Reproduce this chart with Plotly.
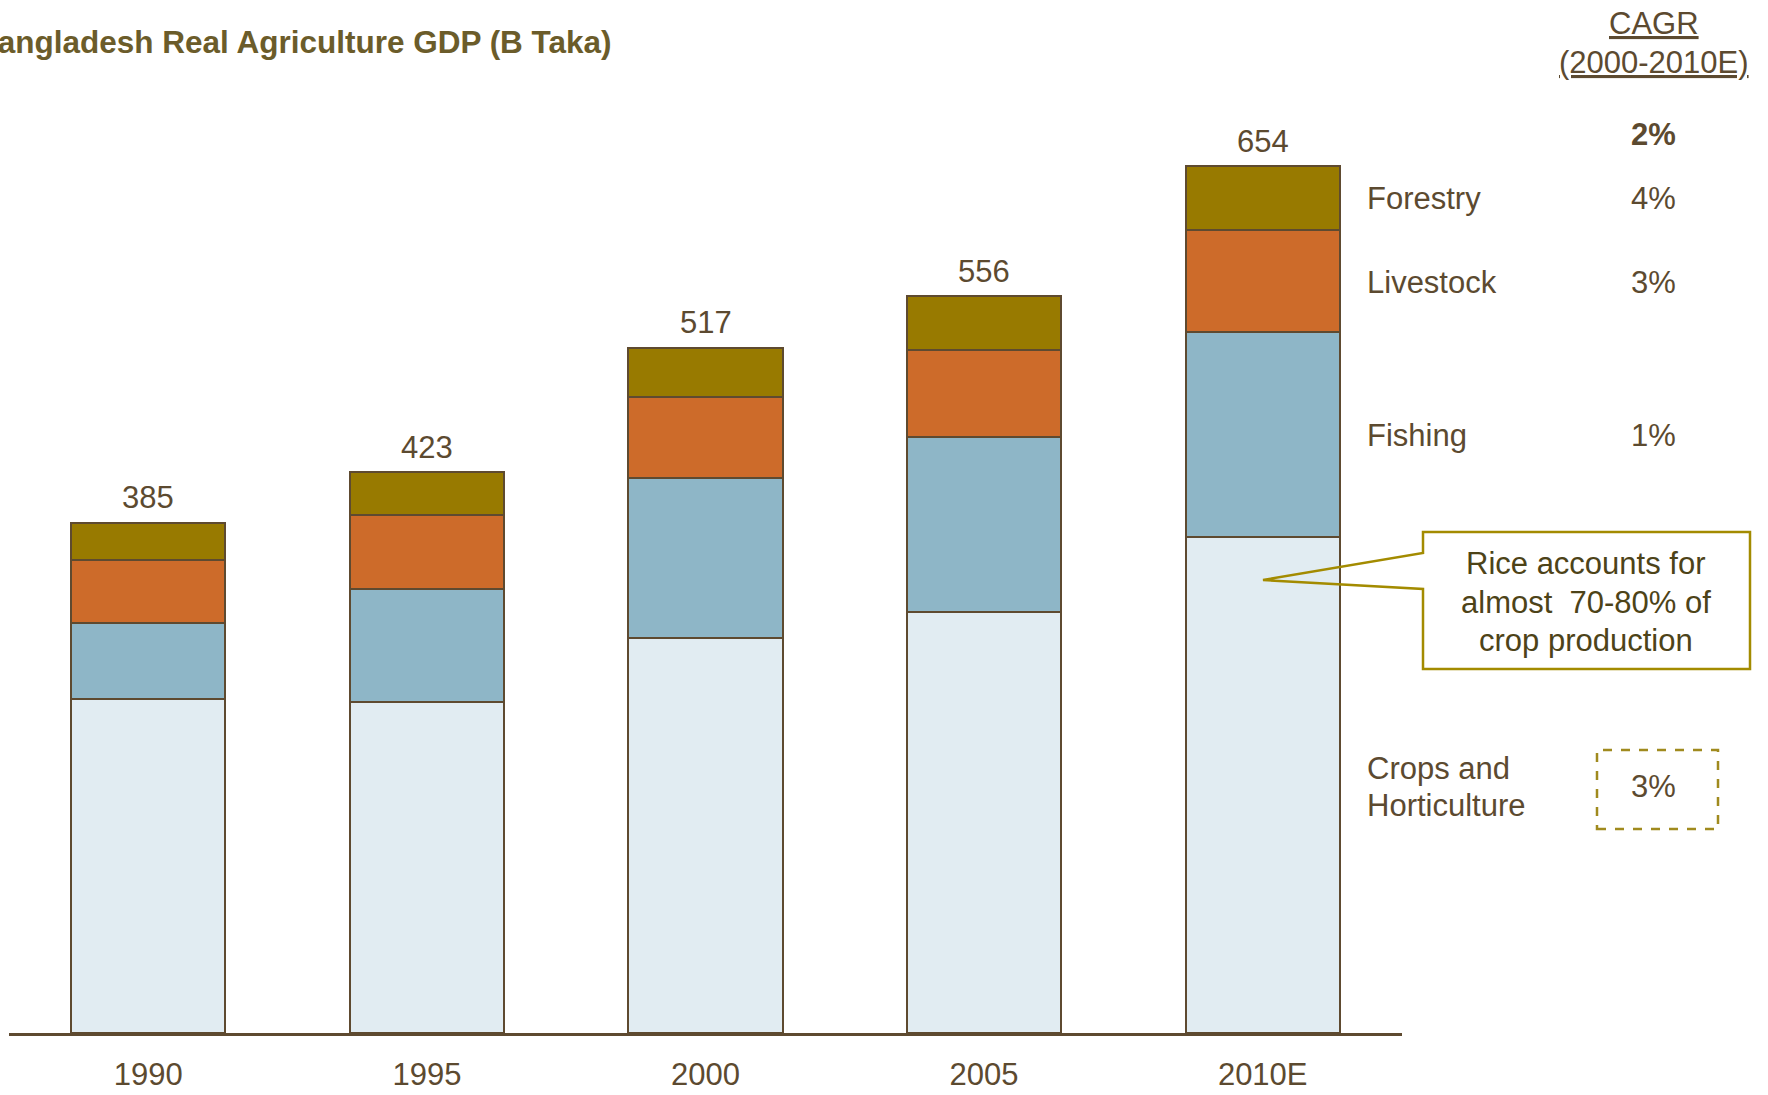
import plotly.graph_objects as go

# ---------------- data ----------------
years = ["1990", "1995", "2000", "2005", "2010E"]
crops = [252, 250, 298, 318, 374]
fishing = [57, 85, 121, 132, 155]
livestock = [48, 56, 61, 65, 77]
forestry = [28, 32, 37, 41, 48]
totals = [385, 423, 517, 556, 654]

segment_names = ["Crops and Horticulture", "Fishing", "Livestock", "Forestry"]
cagr_labels = ["3%", "1%", "3%", "4%"]
cagr_total = "2%"
callout_lines = ["Rice accounts for", "almost  70-80% of", "crop production"]

# ---------------- geometry (screen px) ----------------
W, H = 1768, 1095
SCR_LEFT, SCR_RIGHT = 9, 1402     # plot area on screen
SCR_TOP, SCR_BOTTOM = 100, 1033
L = SCR_LEFT
R = W - SCR_RIGHT
T = SCR_TOP
B = H - SCR_BOTTOM
PLOT_W = W - L - R
PLOT_H = H - T - B
YMAX = 704.0

FONT = "Liberation Sans, Arial, sans-serif"
TXT = "#5C4A30"
TITLE_C = "#6B5C2A"
OUTLINE = "#5E4A30"
GOLD = "#A38B00"
colors = {"Crops and Horticulture": "#E1ECF2", "Fishing": "#8EB6C7",
          "Livestock": "#CD6B2A", "Forestry": "#987A00"}


def px(x):
    """screen x pixel -> paper coordinate"""
    return (x - SCR_LEFT) / PLOT_W


def py(y):
    """screen y pixel -> paper coordinate"""
    return (SCR_BOTTOM - y) / PLOT_H


def note(x, y, text, xanchor="center", size=31, color=TXT, align="center"):
    return dict(x=px(x), y=py(y), xref="paper", yref="paper",
                xanchor=xanchor, yanchor="middle", align=align,
                showarrow=False, text=text,
                font=dict(size=size, color=color, family=FONT))


fig = go.Figure()
for name, vals in zip(segment_names, [crops, fishing, livestock, forestry]):
    fig.add_trace(go.Bar(
        x=years, y=vals, name=name,
        marker=dict(color=colors[name], line=dict(color=OUTLINE, width=2)),
        hoverinfo="x+y+name",
    ))

annotations = []
# totals above bars (category index on the x axis)
for i, tot in enumerate(totals):
    annotations.append(dict(x=i, y=tot, xref="x", yref="y", text=str(tot),
                            showarrow=False, xanchor="center", yanchor="middle",
                            yshift=25,
                            font=dict(size=31, color=TXT, family=FONT)))

# title (partly cut at the left edge as in the reference)
annotations.append(note(614, 42, "<b>Bangladesh Real Agriculture GDP (B Taka)</b>",
                        xanchor="right", size=31.5, color=TITLE_C))

# CAGR header
annotations.append(note(1654, 23, "<u>CAGR</u>"))
annotations.append(note(1654, 62, "<u>(2000-2010E)</u>"))
annotations.append(note(1654, 134, "<b>" + cagr_total + "</b>"))

# segment labels and CAGR values
label_rows = {"Forestry": [198], "Livestock": [282], "Fishing": [436],
              "Crops and Horticulture": [768, 805]}
label_text = {"Forestry": ["Forestry"], "Livestock": ["Livestock"],
              "Fishing": ["Fishing"],
              "Crops and Horticulture": ["Crops and", "Horticulture"]}
for name, cg in zip(segment_names, cagr_labels):
    rows = label_rows[name]
    for yy, line in zip(rows, label_text[name]):
        annotations.append(note(1365, yy, line, xanchor="left", align="left"))
    annotations.append(note(1654, sum(rows) / len(rows), cg))

# callout text
for yy, line in zip([563, 602, 640], callout_lines):
    annotations.append(note(1586, yy, line, color="#4D4318"))

# callout shape
bl, br, bt, bb = 1423, 1750, 532, 669
a1, a2, tipx, tipy = 553, 589, 1263, 580
path = (f"M {px(bl)},{py(a1)} L {px(bl)},{py(bt)} L {px(br)},{py(bt)} "
        f"L {px(br)},{py(bb)} L {px(bl)},{py(bb)} L {px(bl)},{py(a2)} "
        f"L {px(tipx)},{py(tipy)} Z")
shapes = [
    dict(type="rect", xref="paper", yref="paper", x0=px(bl), x1=px(br),
         y0=py(bb), y1=py(bt), fillcolor="white", line=dict(width=0),
         layer="above"),
    dict(type="path", xref="paper", yref="paper", path=path,
         line=dict(color=GOLD, width=2.5), fillcolor="rgba(0,0,0,0)",
         layer="above"),
    dict(type="rect", xref="paper", yref="paper", x0=px(1597), x1=px(1718),
         y0=py(829), y1=py(750), line=dict(color="#A08A1E", width=2.5, dash="dash"),
         fillcolor="rgba(0,0,0,0)", layer="above"),
]

fig.update_layout(
    width=W, height=H,
    margin=dict(l=L, r=R, t=T, b=B, pad=0, autoexpand=False),
    barmode="stack", bargap=0.447,
    showlegend=False,
    plot_bgcolor="white", paper_bgcolor="white",
    font=dict(family=FONT, color=TXT, size=31),
    annotations=annotations,
    shapes=shapes,
    xaxis=dict(type="category", showline=True, linecolor=OUTLINE, linewidth=2.5,
               ticks="", showgrid=False, zeroline=False, automargin=False,
               tickfont=dict(size=31, color=TXT, family=FONT),
               ticklabelstandoff=12, range=[-0.5, 4.5]),
    yaxis=dict(visible=False, range=[0, YMAX], showgrid=False, zeroline=False,
               automargin=False),
)

fig.write_html("out.html", config={"displayModeBar": False},
               post_script="document.body.style.margin='0px';"
                           "document.body.style.overflow='hidden';")
